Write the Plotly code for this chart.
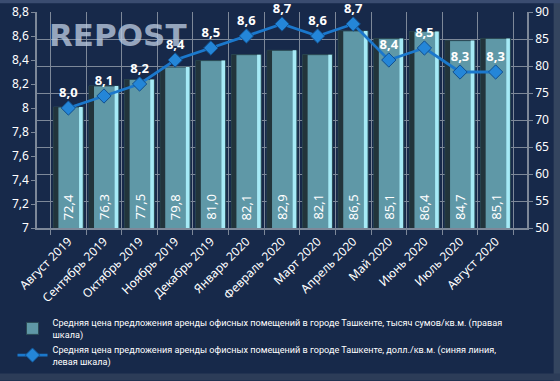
import plotly.graph_objects as go

categories = ["Август 2019", "Сентябрь 2019", "Октябрь 2019", "Ноябрь 2019", "Декабрь 2019",
              "Январь 2020", "Февраль 2020", "Март 2020", "Апрель 2020", "Май 2020",
              "Июнь 2020", "Июль 2020", "Август 2020"]
sum_values = [72.4, 76.3, 77.5, 79.8, 81.0, 82.1, 82.9, 82.1, 86.5, 85.1, 86.4, 84.7, 85.1]
usd_values = [8.0, 8.1, 8.2, 8.4, 8.5, 8.6, 8.7, 8.6, 8.7, 8.4, 8.5, 8.3, 8.3]

bar_name = "Средняя цена предложения аренды офисных помещений в городе Ташкенте, тысяч сумов/кв.м. (правая<br>шкала)"
line_name = "Средняя цена предложения аренды офисных помещений в городе Ташкенте, долл./кв.м. (синяя линия,<br>левая шкала)"

BG = "#17294a"
GRID = "#7d8899"
FONT = "Noto Sans"
LFONT = "Roboto"
AX_MIN = 50

fig = go.Figure()

fig.add_trace(go.Bar(
    x=categories, y=sum_values, yaxis="y", name=bar_name,
    width=0.84,
    marker=dict(color="#5f98a7", line=dict(color="#2b4a55", width=1)),
    hoverinfo="skip",
))
fig.add_trace(go.Bar(
    x=categories, y=sum_values, yaxis="y", showlegend=False,
    width=0.14, offset=-0.42,
    marker=dict(color="#22343b", line=dict(width=0)),
    hoverinfo="skip",
))
fig.add_trace(go.Bar(
    x=categories, y=sum_values, yaxis="y", showlegend=False,
    width=0.1, offset=0.30,
    marker=dict(color="#a6eaf6", line=dict(width=0)),
    hoverinfo="skip",
))

fig.add_trace(go.Scatter(
    x=categories, y=usd_values, yaxis="y2", name=line_name, mode="lines+markers+text",
    line=dict(color="#1b78cc", width=2.8),
    marker=dict(symbol="diamond", size=11, color="#2486d8", line=dict(color="#12508e", width=1)),
    text=[f"{v:.1f}".replace(".", ",") for v in usd_values],
    textposition="top center", cliponaxis=False,
    textfont=dict(color="white", size=13, family=FONT, weight="bold"),
))

# rotated bar value labels at the bar base
for c, v in zip(categories, sum_values):
    fig.add_annotation(
        x=c, y=AX_MIN, xref="x", yref="y", text=f"{v:.1f}".replace(".", ","),
        textangle=-90, showarrow=False, xanchor="center", yanchor="bottom", yshift=6,
        font=dict(color="white", size=13, family=FONT),
    )

fig.update_layout(
    width=560, height=381,
    margin=dict(l=37, r=33, t=12, b=153, autoexpand=False),
    paper_bgcolor=BG, plot_bgcolor=BG,
    barmode="overlay",
    separators=", ",
    font=dict(family=FONT, color="white", size=11),
    xaxis=dict(
        tickangle=-45, tickson="boundaries", ticks="outside", ticklen=5,
        tickcolor=GRID, showgrid=True, gridcolor=GRID, gridwidth=1,
        showline=True, linecolor=GRID, linewidth=1.5, automargin=False,
        tickfont=dict(size=12, color="white", family=FONT),
    ),
    yaxis=dict(
        range=[AX_MIN, 90], dtick=5, side="right", showgrid=True, gridcolor=GRID, gridwidth=1,
        showline=True, linecolor=GRID, linewidth=1.5, ticks="outside", ticklen=4, tickcolor=GRID,
        tickfont=dict(size=12, color="white", family=FONT), zeroline=False, automargin=False,
    ),
    yaxis2=dict(
        range=[7, 8.8], dtick=0.2, overlaying="y", side="left", showgrid=False,
        showline=True, linecolor=GRID, linewidth=1.5, ticks="outside", ticklen=4, tickcolor=GRID,
        tickfont=dict(size=12, color="white", family=FONT), zeroline=False, automargin=False,
    ),
    legend=dict(
        x=-0.05, y=-0.38, xanchor="left", yanchor="top",
        bgcolor="rgba(0,0,0,0)", font=dict(size=9.1, color="white", family=LFONT),
        traceorder="normal", itemwidth=30,
    ),
    showlegend=True,
)

fig.add_annotation(
    xref="paper", yref="paper", x=0.02, y=0.985, xanchor="left", yanchor="top",
    text="<b>REPOST</b>", showarrow=False,
    font=dict(size=31, color="rgba(185,200,222,0.78)", family="DejaVu Sans"),
)

# frame bevel
fig.add_shape(type="line", xref="paper", yref="paper", x0=1.0615, x1=1.0615, y0=-0.72, y1=1.06,
              line=dict(color="#34455f", width=7), layer="below")
fig.add_shape(type="line", xref="paper", yref="paper", x0=-0.08, x1=1.07, y0=-0.69, y1=-0.69,
              line=dict(color="#2c3c58", width=7), layer="below")
fig.add_shape(type="line", xref="paper", yref="paper", x0=-0.08, x1=1.07, y0=1.05, y1=1.05,
              line=dict(color="#3a4c70", width=4), layer="below")

fig.write_html("out.html", config={"displayModeBar": False})

with open("out.html", "r", encoding="utf-8") as f:
    html = f.read()
html = html.replace("<head>", "<head><style>html,body{margin:0;padding:0;overflow:hidden;}</style>", 1)
with open("out.html", "w", encoding="utf-8") as f:
    f.write(html)
